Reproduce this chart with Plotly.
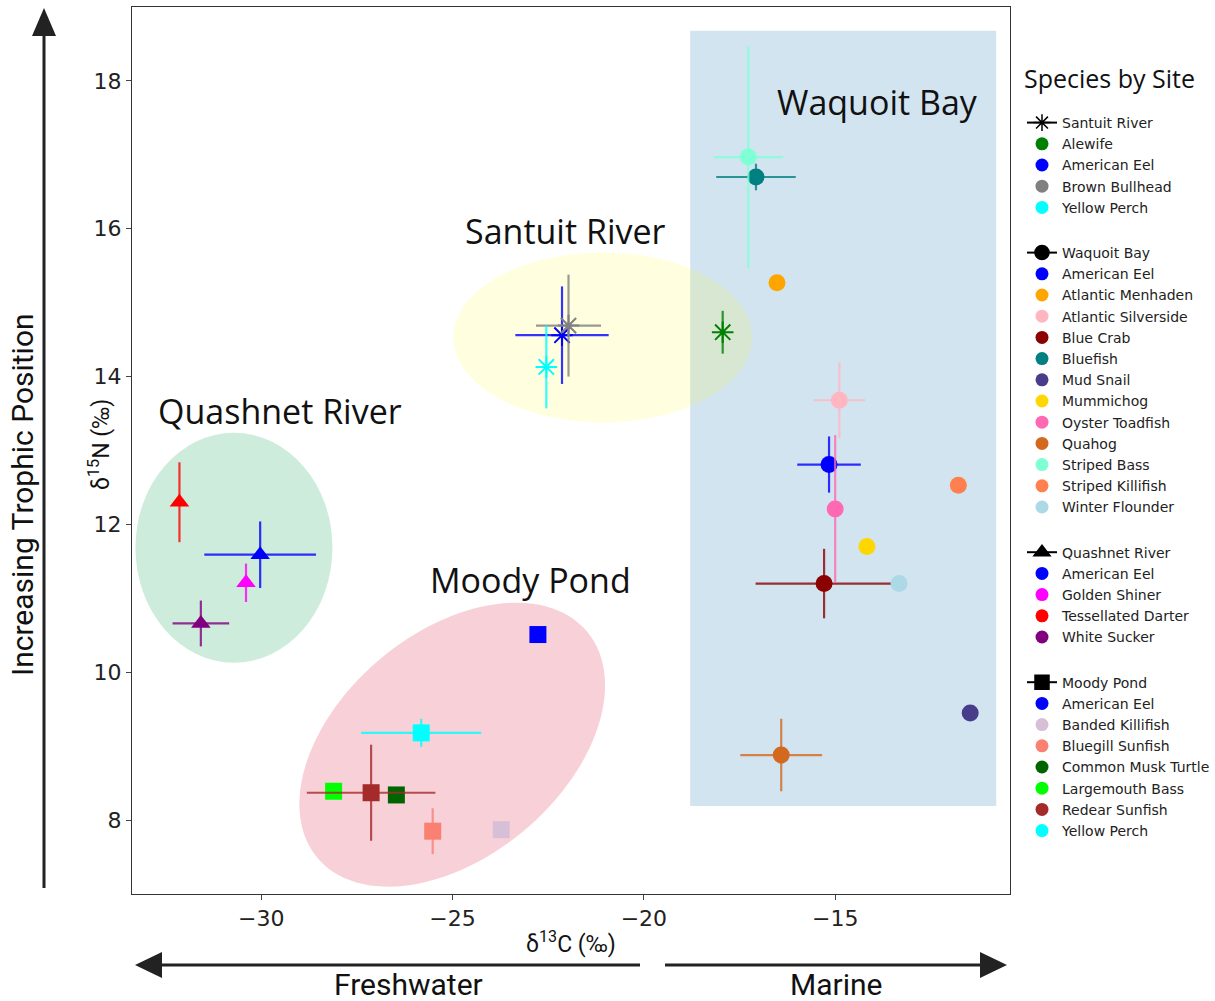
import numpy as np
import plotly.graph_objects as go

W, H = 1215, 1001
ML, MR, MT, MB = 132, 205, 7, 107
PW, PH = W - ML - MR, H - MT - MB

X_RANGE = [-33.38, -10.43]
Y_RANGE = [7.0, 19.0]
X_TICKS = [-30, -25, -20, -15]
Y_TICKS = [8, 10, 12, 14, 16, 18]

# ---------------- data ----------------
santuit_species = ["Alewife", "American Eel", "Brown Bullhead", "Yellow Perch"]
santuit_colors = ["#008000", "#0000ff", "#808080", "#00ffff"]
santuit_x = [-17.94, -22.14, -21.97, -22.55]
santuit_y = [14.60, 14.56, 14.69, 14.13]
santuit_xerr = [0.0, 1.22, 0.85, 0.0]
santuit_yerr = [0.29, 0.66, 0.69, 0.56]

waquoit_species = ["American Eel", "Atlantic Menhaden", "Atlantic Silverside", "Blue Crab",
                   "Bluefish", "Mud Snail", "Mummichog", "Oyster Toadfish", "Quahog",
                   "Striped Bass", "Striped Killifish", "Winter Flounder"]
waquoit_colors = ["#0000ff", "#ffa500", "#ffb6c1", "#8b0000", "#008080", "#483d8b",
                  "#ffd700", "#ff69b4", "#d2691e", "#7fffd4", "#ff7f50", "#add8e6"]
waquoit_x = [-15.16, -16.52, -14.89, -15.29, -17.07, -11.47, -14.17, -15.00, -16.41,
             -17.27, -11.78, -13.33]
waquoit_y = [12.81, 15.27, 13.68, 11.20, 16.70, 9.45, 11.70, 12.21, 8.88, 16.97, 12.53, 11.20]
waquoit_xerr = [0.83, 0.0, 0.67, 1.79, 1.04, 0.0, 0.0, 0.0, 1.07, 0.91, 0.0, 0.0]
waquoit_yerr = [0.38, 0.0, 0.51, 0.47, 0.18, 0.0, 0.0, 1.00, 0.49, 1.50, 0.0, 0.0]

quashnet_species = ["American Eel", "Golden Shiner", "Tessellated Darter", "White Sucker"]
quashnet_colors = ["#0000ff", "#ff00ff", "#ff0000", "#800080"]
quashnet_x = [-30.03, -30.40, -32.14, -31.58]
quashnet_y = [11.59, 11.21, 12.30, 10.66]
quashnet_xerr = [1.46, 0.0, 0.0, 0.74]
quashnet_yerr = [0.45, 0.26, 0.54, 0.31]

moody_species = ["American Eel", "Banded Killifish", "Bluegill Sunfish", "Common Musk Turtle",
                 "Largemouth Bass", "Redear Sunfish", "Yellow Perch"]
moody_colors = ["#0000ff", "#d8bfd8", "#fa8072", "#006400", "#00ff00", "#a52a2a", "#00ffff"]
moody_x = [-22.77, -23.73, -25.52, -26.47, -28.11, -27.13, -25.82]
moody_y = [10.51, 7.87, 7.85, 8.34, 8.39, 8.37, 9.18]
moody_xerr = [0.0, 0.0, 0.0, 0.0, 0.0, 1.68, 1.57]
moody_yerr = [0.0, 0.0, 0.31, 0.0, 0.0, 0.65, 0.19]

sites = [
    ("Santuit River", "asterisk-open", santuit_species, santuit_colors, santuit_x, santuit_y, santuit_xerr, santuit_yerr),
    ("Waquoit Bay", "circle", waquoit_species, waquoit_colors, waquoit_x, waquoit_y, waquoit_xerr, waquoit_yerr),
    ("Quashnet River", "triangle-up", quashnet_species, quashnet_colors, quashnet_x, quashnet_y, quashnet_xerr, quashnet_yerr),
    ("Moody Pond", "square", moody_species, moody_colors, moody_x, moody_y, moody_xerr, moody_yerr),
]

site_labels = ["Waquoit Bay", "Santuit River", "Quashnet River", "Moody Pond"]
site_label_x = [-13.90, -22.06, -29.50, -22.97]
site_label_y = [17.72, 15.97, 13.53, 11.25]

# ---------------- helpers ----------------
SX = PW / (X_RANGE[1] - X_RANGE[0])
SY = PH / (Y_RANGE[1] - Y_RANGE[0])


def hex_rgba(h, a):
    h = h.lstrip("#")
    return "rgba(%d,%d,%d,%.2f)" % (int(h[0:2], 16), int(h[2:4], 16), int(h[4:6], 16), a)


def px(xp):
    return (xp - ML) / PW


def py(yp):
    return 1 - (yp - MT) / PH


def ellipse_path(cx, cy, a_px, b_px, ang_deg, n=120):
    t = np.linspace(0, 2 * np.pi, n)
    th = np.radians(ang_deg)
    dx = a_px * np.cos(t) * np.cos(th) - b_px * np.sin(t) * np.sin(th)
    dy = a_px * np.cos(t) * np.sin(th) + b_px * np.sin(t) * np.cos(th)
    xs = cx + dx / SX
    ys = cy + dy / SY
    return "M " + " L ".join("%.4f,%.4f" % (a, b) for a, b in zip(xs, ys)) + " Z"


fig = go.Figure()

# data traces
for site, sym, sp, cols, xs, ys, xe, ye in sites:
    for i in range(len(sp)):
        is_ast = sym.startswith("asterisk")
        fig.add_trace(go.Scatter(
            x=[xs[i]], y=[ys[i]], mode="markers", showlegend=False,
            name=sp[i],
            marker=dict(symbol=sym, size=18 if is_ast else 17, color=cols[i],
                        line=dict(color=cols[i], width=2 if is_ast else 0)),
            error_x=dict(type="data", array=[xe[i]], visible=xe[i] > 0, width=0,
                         thickness=2.2, color=hex_rgba(cols[i], 0.8)),
            error_y=dict(type="data", array=[ye[i]], visible=ye[i] > 0, width=0,
                         thickness=2.2, color=hex_rgba(cols[i], 0.8)),
        ))

# legend traces
for site, sym, sp, cols, xs, ys, xe, ye in sites:
    fig.add_trace(go.Scatter(
        x=[None], y=[None], mode="lines+markers", name=site, legendgroup=site,
        line=dict(color="black", width=2),
        marker=dict(symbol=sym, size=14, color="black", line=dict(color="black", width=1.5)),
    ))
    for i in range(len(sp)):
        fig.add_trace(go.Scatter(
            x=[None], y=[None], mode="markers", name=sp[i], legendgroup=site,
            marker=dict(symbol="circle", size=13, color=cols[i]),
        ))

shapes = []
# Waquoit Bay rectangle
shapes.append(dict(type="rect", xref="x", yref="y", x0=-18.79, x1=-10.79, y0=8.19, y1=18.68,
                   fillcolor="rgba(31,119,180,0.2)", line=dict(width=0), layer="below"))
# Santuit ellipse
shapes.append(dict(type="circle", xref="x", yref="y", x0=-24.98, x1=-17.17, y0=13.38, y1=15.68,
                   fillcolor="rgba(255,255,0,0.12)", line=dict(width=0), layer="below"))
# Quashnet ellipse
shapes.append(dict(type="circle", xref="x", yref="y", x0=-33.29, x1=-28.14, y0=10.13, y1=13.24,
                   fillcolor="rgba(60,179,113,0.25)", line=dict(width=0), layer="below"))
# Moody ellipse
shapes.append(dict(type="path", xref="x", yref="y", path=ellipse_path(-25.01, 9.02, 176, 112, 40),
                   fillcolor="rgba(220,20,60,0.2)", line=dict(width=0), layer="below"))

# arrows (paper coords)
AC = "#222222"
shapes.append(dict(type="line", xref="paper", yref="paper", x0=px(44), x1=px(44), y0=py(888), y1=py(30),
                   line=dict(color=AC, width=3)))
shapes.append(dict(type="path", xref="paper", yref="paper",
                   path="M %f,%f L %f,%f L %f,%f Z" % (px(44), py(8), px(32), py(36), px(56), py(36)),
                   fillcolor=AC, line=dict(width=0)))
shapes.append(dict(type="line", xref="paper", yref="paper", x0=px(160), x1=px(640), y0=py(965), y1=py(965),
                   line=dict(color=AC, width=3)))
shapes.append(dict(type="path", xref="paper", yref="paper",
                   path="M %f,%f L %f,%f L %f,%f Z" % (px(135), py(965), px(162), py(952), px(162), py(978)),
                   fillcolor=AC, line=dict(width=0)))
shapes.append(dict(type="line", xref="paper", yref="paper", x0=px(665), x1=px(985), y0=py(965), y1=py(965),
                   line=dict(color=AC, width=3)))
shapes.append(dict(type="path", xref="paper", yref="paper",
                   path="M %f,%f L %f,%f L %f,%f Z" % (px(1007), py(965), px(980), py(952), px(980), py(978)),
                   fillcolor=AC, line=dict(width=0)))

annotations = []
for t, x, y in zip(site_labels, site_label_x, site_label_y):
    annotations.append(dict(text=t, x=x, y=y, xref="x", yref="y", showarrow=False,
                            xanchor="center", yanchor="middle",
                            font=dict(family="Open Sans", size=34, color="#111")))

COND = "Liberation Sans Narrow, Roboto, Open Sans"


def pann(text, xp, yp, size, angle=0, family=COND):
    return dict(text=text, x=px(xp), y=py(yp), xref="paper", yref="paper", showarrow=False,
                xanchor="center", yanchor="middle", textangle=angle,
                font=dict(family=family, size=size, color="#111"))


annotations += [
    pann("δ<sup>13</sup>C (‰)", 571, 943, 23),
    pann("δ<sup>15</sup>N (‰)", 100, 445, 23, -90),
    pann("Increasing Trophic Position", 23, 495, 30, -90),
    pann("Freshwater", 408, 984, 30),
    pann("Marine", 836, 984, 30),
    pann("Species by Site", 1109, 78, 25, 0, "Open Sans"),
]

fig.update_layout(
    width=W, height=H, autosize=False,
    margin=dict(l=ML, r=MR, t=MT, b=MB, pad=0, autoexpand=False),
    paper_bgcolor="white", plot_bgcolor="white",
    shapes=shapes, annotations=annotations,
    legend=dict(x=px(1022), y=py(107), xanchor="left", yanchor="top",
                font=dict(family="DejaVu Sans", size=14, color="#222"),
                tracegroupgap=24, traceorder="grouped", bgcolor="rgba(0,0,0,0)"),
    xaxis=dict(range=X_RANGE, tickvals=X_TICKS, ticks="outside", ticklen=5, tickcolor="#444",
               showgrid=False, zeroline=False, showline=True, mirror=True, linecolor="#333", linewidth=1,
               tickfont=dict(family="DejaVu Sans", size=22, color="#222")),
    yaxis=dict(range=Y_RANGE, tickvals=Y_TICKS, ticks="outside", ticklen=5, tickcolor="#444",
               showgrid=False, zeroline=False, showline=True, mirror=True, linecolor="#333", linewidth=1,
               tickfont=dict(family="DejaVu Sans", size=22, color="#222")),
)

fig.write_html("out.html")
